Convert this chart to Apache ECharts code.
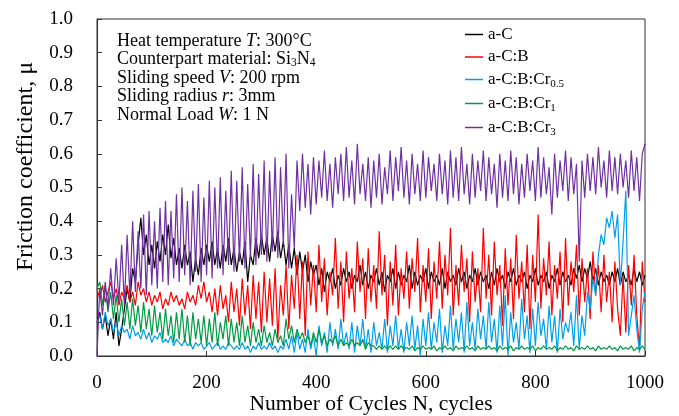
<!DOCTYPE html>
<html>
<head>
<meta charset="utf-8">
<script src="https://cdn.jsdelivr.net/npm/echarts@6/dist/echarts.min.js"></script>
<style>
  html, body { margin: 0; padding: 0; background: #fff; }
  #chart { width: 679px; height: 416px; }
</style>
</head>
<body>
<div id="chart"></div>
<script>
// cycles 0..1000, one reading every 5 cycles
const step = 5
const xTicks = ['0', '200', '400', '600', '800', '1000']
const yTicks = ['0.0', '0.1', '0.2', '0.3', '0.4', '0.5', '0.6', '0.7', '0.8', '0.9', '1.0']

const names = ['a-C', 'a-C:B', 'a-C:B:Cr0.5', 'a-C:B:Cr1', 'a-C:B:Cr3']
const colors = ['#000000', '#ff0000', '#00a0e9', '#009a44', '#7030a0']

// a-C
const aC = [
  0.10, 0.13, 0.08, 0.12, 0.06, 0.11, 0.05, 0.13, 0.03, 0.08, 0.14,
  0.20, 0.16, 0.26, 0.22, 0.33, 0.41, 0.30, 0.36, 0.27, 0.33,
  0.26, 0.34, 0.28, 0.36, 0.30, 0.39, 0.29, 0.35, 0.27, 0.32,
  0.26, 0.33, 0.27, 0.31, 0.22, 0.29, 0.24, 0.32, 0.27, 0.33,
  0.28, 0.34, 0.27, 0.32, 0.26, 0.33, 0.28, 0.35, 0.27, 0.32,
  0.25, 0.31, 0.27, 0.34, 0.22, 0.30, 0.27, 0.35, 0.29, 0.36,
  0.30, 0.35, 0.28, 0.36, 0.31, 0.37, 0.29, 0.34, 0.27, 0.33,
  0.26, 0.32, 0.24, 0.31, 0.25, 0.30, 0.22, 0.28, 0.24, 0.27,
  0.21, 0.26, 0.19, 0.25, 0.22, 0.26, 0.20, 0.24, 0.21, 0.26,
  0.22, 0.25, 0.20, 0.24, 0.22, 0.27, 0.21, 0.25, 0.20, 0.24,
  0.22, 0.26, 0.21, 0.25, 0.19, 0.24, 0.22, 0.26, 0.20, 0.25,
  0.21, 0.24, 0.22, 0.27, 0.20, 0.25, 0.21, 0.24, 0.22, 0.26,
  0.20, 0.25, 0.22, 0.24, 0.21, 0.26, 0.20, 0.25, 0.22, 0.24,
  0.21, 0.26, 0.22, 0.25, 0.20, 0.24, 0.22, 0.26, 0.21, 0.25,
  0.22, 0.24, 0.20, 0.25, 0.21, 0.26, 0.22, 0.24, 0.20, 0.25,
  0.22, 0.26, 0.21, 0.24, 0.22, 0.25, 0.20, 0.24, 0.22, 0.26,
  0.21, 0.24, 0.22, 0.25, 0.20, 0.24, 0.22, 0.26, 0.21, 0.25,
  0.22, 0.24, 0.21, 0.26, 0.23, 0.27, 0.22, 0.26, 0.23, 0.28,
  0.22, 0.26, 0.21, 0.25, 0.22, 0.24, 0.21, 0.25, 0.22, 0.26,
  0.21, 0.25, 0.22, 0.24, 0.21, 0.26, 0.22, 0.25, 0.21, 0.24
]

// a-C:B
const aCB = [
  0.20, 0.17, 0.21, 0.16, 0.19, 0.22, 0.17, 0.20, 0.15, 0.19, 0.17,
  0.21, 0.16, 0.19, 0.15, 0.22, 0.18, 0.20, 0.16, 0.19, 0.15,
  0.18, 0.16, 0.19, 0.14, 0.17, 0.15, 0.19, 0.16, 0.18, 0.15,
  0.17, 0.14, 0.19, 0.16, 0.18, 0.15, 0.21, 0.17, 0.22, 0.16,
  0.19, 0.13, 0.20, 0.12, 0.21, 0.14, 0.18, 0.10, 0.22, 0.13,
  0.20, 0.09, 0.23, 0.12, 0.21, 0.08, 0.24, 0.11, 0.22, 0.07,
  0.25, 0.10, 0.23, 0.09, 0.26, 0.05, 0.21, 0.12, 0.27, 0.08,
  0.24, 0.14, 0.30, 0.11, 0.28, 0.06, 0.31, 0.15, 0.27, 0.13,
  0.33, 0.16, 0.29, 0.12, 0.25, 0.18, 0.35, 0.14, 0.28, 0.10,
  0.31, 0.17, 0.26, 0.13, 0.34, 0.19, 0.29, 0.11, 0.32, 0.16,
  0.27, 0.14, 0.37, 0.18, 0.30, 0.09, 0.28, 0.15, 0.33, 0.12,
  0.26, 0.17, 0.31, 0.14, 0.29, 0.19, 0.35, 0.13, 0.27, 0.16,
  0.32, 0.11, 0.28, 0.17, 0.34, 0.14, 0.30, 0.18, 0.38, 0.12,
  0.27, 0.15, 0.33, 0.19, 0.29, 0.10, 0.31, 0.16, 0.26, 0.13,
  0.38, 0.17, 0.30, 0.12, 0.34, 0.18, 0.27, 0.09, 0.32, 0.15,
  0.29, 0.11, 0.36, 0.17, 0.28, 0.13, 0.33, 0.08, 0.30, 0.16,
  0.42, 0.14, 0.29, 0.18, 0.34, 0.12, 0.27, 0.17, 0.31, 0.10,
  0.35, 0.15, 0.28, 0.19, 0.33, 0.12, 0.29, 0.16, 0.26, 0.11,
  0.31, 0.18, 0.27, 0.13, 0.30, 0.16, 0.25, 0.10, 0.28, 0.14,
  0.06, 0.24, 0.07, 0.27, 0.15, 0.30, 0.12, 0.02, 0.28, 0.16
]

// a-C:B:Cr0.5
const aCBCr05 = [
  0.10, 0.12, 0.08, 0.13, 0.09, 0.11, 0.07, 0.10, 0.06, 0.09, 0.07,
  0.08, 0.05, 0.09, 0.06, 0.07, 0.05, 0.08, 0.05, 0.07, 0.04,
  0.06, 0.05, 0.07, 0.04, 0.05, 0.04, 0.06, 0.03, 0.05, 0.04,
  0.03, 0.05, 0.03, 0.04, 0.02, 0.04, 0.03, 0.04, 0.02, 0.03,
  0.04, 0.02, 0.03, 0.04, 0.02, 0.03, 0.02, 0.04, 0.03, 0.02,
  0.03, 0.02, 0.04, 0.02, 0.03, 0.01, 0.03, 0.02, 0.04, 0.02,
  0.03, 0.02, 0.04, 0.02, 0.03, 0.01, 0.03, 0.02, 0.05, 0.02,
  0.06, 0.01, 0.07, 0.02, 0.05, 0.01, 0.08, 0.02, 0.06, 0.00,
  0.09, 0.03, 0.07, 0.01, 0.10, 0.03, 0.08, 0.02, 0.11, 0.03,
  0.07, 0.02, 0.10, 0.01, 0.09, 0.03, 0.11, 0.02, 0.08, 0.01,
  0.10, 0.03, 0.07, 0.02, 0.11, 0.01, 0.09, 0.03, 0.12, 0.02,
  0.08, 0.01, 0.10, 0.03, 0.12, 0.02, 0.09, 0.00, 0.11, 0.03,
  0.13, 0.02, 0.10, 0.04, 0.14, 0.01, 0.09, 0.03, 0.15, 0.02,
  0.11, 0.04, 0.13, 0.01, 0.16, 0.03, 0.10, 0.02, 0.14, 0.05,
  0.12, 0.02, 0.16, 0.04, 0.11, 0.01, 0.15, 0.03, 0.18, 0.00,
  0.13, 0.04, 0.10, 0.02, 0.17, 0.05, 0.12, 0.01, 0.14, 0.03,
  0.16, 0.06, 0.11, 0.02, 0.15, 0.04, 0.12, 0.01, 0.14, 0.05,
  0.10, 0.07, 0.13, 0.03, 0.18, 0.02, 0.12, 0.06, 0.19, 0.14,
  0.23, 0.18, 0.30, 0.36, 0.33, 0.41, 0.38, 0.43, 0.35, 0.42,
  0.21, 0.34, 0.49, 0.06, 0.12, 0.18, 0.08, 0.01, 0.14, 0.19
]

// a-C:B:Cr1
const aCBCr1 = [
  0.20, 0.22, 0.15, 0.21, 0.13, 0.19, 0.11, 0.18, 0.10, 0.17, 0.09,
  0.16, 0.08, 0.17, 0.09, 0.15, 0.07, 0.16, 0.08, 0.14, 0.06,
  0.15, 0.07, 0.13, 0.05, 0.14, 0.06, 0.12, 0.04, 0.13, 0.05,
  0.14, 0.04, 0.12, 0.03, 0.13, 0.05, 0.11, 0.04, 0.12, 0.03,
  0.11, 0.04, 0.13, 0.03, 0.10, 0.05, 0.12, 0.03, 0.11, 0.04,
  0.10, 0.03, 0.12, 0.04, 0.09, 0.03, 0.10, 0.04, 0.08, 0.03,
  0.09, 0.04, 0.07, 0.03, 0.08, 0.04, 0.06, 0.03, 0.11, 0.05,
  0.09, 0.04, 0.08, 0.05, 0.07, 0.04, 0.06, 0.03, 0.07, 0.04,
  0.08, 0.04, 0.06, 0.03, 0.05, 0.04, 0.06, 0.03, 0.05, 0.03,
  0.04, 0.03, 0.05, 0.03, 0.04, 0.03, 0.05, 0.02, 0.04, 0.03,
  0.03, 0.02, 0.03, 0.02, 0.03, 0.02, 0.03, 0.02, 0.03, 0.02,
  0.03, 0.02, 0.025, 0.02, 0.03, 0.015, 0.025, 0.02, 0.03, 0.02,
  0.025, 0.02, 0.03, 0.015, 0.025, 0.02, 0.03, 0.02, 0.025, 0.015,
  0.03, 0.02, 0.025, 0.02, 0.03, 0.02, 0.025, 0.015, 0.03, 0.02,
  0.025, 0.02, 0.03, 0.02, 0.025, 0.015, 0.03, 0.02, 0.025, 0.02,
  0.03, 0.015, 0.025, 0.02, 0.03, 0.02, 0.025, 0.02, 0.03, 0.015,
  0.025, 0.02, 0.03, 0.02, 0.025, 0.02, 0.03, 0.015, 0.025, 0.02,
  0.03, 0.02, 0.025, 0.015, 0.03, 0.02, 0.025, 0.02, 0.03, 0.02,
  0.025, 0.015, 0.03, 0.02, 0.025, 0.02, 0.03, 0.02, 0.025, 0.015,
  0.03, 0.02, 0.025, 0.02, 0.03, 0.015, 0.025, 0.02, 0.03, 0.02
]

// a-C:B:Cr3
const aCBCr3 = [
  0.00,
  0.20, 0.12, 0.22, 0.14, 0.26, 0.15, 0.29, 0.16, 0.33, 0.15,
  0.36, 0.18, 0.40, 0.19, 0.37, 0.20, 0.42, 0.18, 0.43, 0.21,
  0.40, 0.20, 0.44, 0.22, 0.46, 0.21, 0.43, 0.23, 0.48, 0.22,
  0.50, 0.24, 0.46, 0.21, 0.49, 0.25, 0.51, 0.22, 0.47, 0.24,
  0.52, 0.23, 0.50, 0.26, 0.53, 0.24, 0.49, 0.27, 0.55, 0.25,
  0.52, 0.28, 0.56, 0.26, 0.51, 0.29, 0.57, 0.27, 0.54, 0.30,
  0.58, 0.28, 0.55, 0.31, 0.59, 0.29, 0.56, 0.33, 0.60, 0.26,
  0.48, 0.32, 0.58, 0.43, 0.60, 0.44, 0.57, 0.42, 0.59, 0.45,
  0.58, 0.47, 0.61, 0.46, 0.57, 0.44, 0.59, 0.48, 0.60, 0.46,
  0.62, 0.47, 0.58, 0.45, 0.63, 0.48, 0.57, 0.46, 0.59, 0.44,
  0.58, 0.47, 0.60, 0.45, 0.56, 0.48, 0.61, 0.46, 0.59, 0.49,
  0.62, 0.47, 0.58, 0.45, 0.60, 0.48, 0.57, 0.46, 0.61, 0.47,
  0.59, 0.49, 0.57, 0.46, 0.60, 0.48, 0.58, 0.45, 0.61, 0.47,
  0.59, 0.46, 0.62, 0.48, 0.57, 0.45, 0.60, 0.47, 0.58, 0.49,
  0.61, 0.46, 0.59, 0.48, 0.57, 0.44, 0.60, 0.47, 0.58, 0.46,
  0.61, 0.48, 0.59, 0.45, 0.57, 0.47, 0.60, 0.49, 0.58, 0.46,
  0.62, 0.47, 0.59, 0.48, 0.56, 0.42, 0.60, 0.47, 0.58, 0.49,
  0.61, 0.46, 0.59, 0.48, 0.57, 0.28, 0.58, 0.47, 0.60, 0.49,
  0.59, 0.48, 0.62, 0.50, 0.58, 0.47, 0.61, 0.49, 0.59, 0.48,
  0.60, 0.50, 0.58, 0.47, 0.61, 0.49, 0.59, 0.46, 0.60, 0.63
]

const seriesValues = [aC, aCB, aCBCr05, aCBCr1, aCBCr3]

const serif = "'Liberation Serif', 'DejaVu Serif', 'Times New Roman', serif"

function pairs(vals) {
  return vals.map((v, i) => [i * step, v])
}

const chart = echarts.init(document.getElementById('chart'), null, { renderer: 'canvas' })

chart.setOption({
  animation: false,
  backgroundColor: '#fff',
  grid: {
    left: 97,
    right: 34,
    top: 19,
    bottom: 60,
    outerBoundsMode: 'none',
    containLabel: false,
    show: true,
    borderColor: '#333',
    borderWidth: 1
  },
  xAxis: {
    type: 'value',
    min: 0,
    max: 1000,
    interval: 200,
    name: 'Number of Cycles N, cycles',
    nameLocation: 'middle',
    nameGap: 37,
    nameMoveOverlap: false,
    nameTextStyle: { fontFamily: serif, fontSize: 21.5, color: '#000' },
    axisLine: { lineStyle: { color: '#333' } },
    axisTick: { inside: true, length: 5, lineStyle: { color: '#333' } },
    axisLabel: {
      fontFamily: serif, fontSize: 19, color: '#000', margin: 18,
      formatter: v => xTicks[Math.round(v / 200)]
    },
    splitLine: { show: false }
  },
  yAxis: {
    type: 'value',
    min: 0,
    max: 1,
    interval: 0.1,
    name: 'Friction coefficient, μ',
    nameLocation: 'middle',
    nameGap: 59,
    nameMoveOverlap: false,
    nameTextStyle: { fontFamily: serif, fontSize: 24, color: '#000', padding: [0, 0, 0, 42] },
    axisLine: { show: true, lineStyle: { color: '#333' } },
    axisTick: { show: true, inside: true, length: 5, lineStyle: { color: '#333' } },
    axisLabel: {
      fontFamily: serif, fontSize: 19, color: '#000', margin: 24,
      formatter: v => yTicks[Math.round(v * 10)]
    },
    splitLine: { show: false }
  },
  legend: {
    orient: 'vertical',
    left: 460,
    top: 21,
    icon: 'rect',
    itemWidth: 18,
    itemHeight: 1.5,
    itemGap: 5.5,
    data: names,
    formatter: function (name) {
      if (name === 'a-C:B:Cr0.5') return '{n|a-C:B:Cr}{s|0.5}'
      if (name === 'a-C:B:Cr1') return '{n|a-C:B:Cr}{s|1}'
      if (name === 'a-C:B:Cr3') return '{n|a-C:B:Cr}{s|3}'
      return '{n|' + name + '}'
    },
    textStyle: {
      fontFamily: serif,
      fontSize: 17,
      color: '#000',
      rich: {
        n: { fontFamily: serif, fontSize: 17, lineHeight: 20, color: '#000' },
        s: { fontFamily: serif, fontSize: 11, lineHeight: 11, verticalAlign: 'bottom', color: '#000' }
      }
    }
  },
  graphic: [{
    type: 'text',
    left: 117,
    top: 32,
    style: {
      text: [
        'Heat temperature {i|T}: 300°C',
        'Counterpart material: Si{s|3}N{s|4}',
        'Sliding speed {i|V}: 200 rpm',
        'Sliding radius {i|r}: 3mm',
        'Normal Load {i|W}: 1 N'
      ].join('\n'),
      fontFamily: serif,
      fontSize: 18,
      lineHeight: 18.5,
      fill: '#000',
      rich: {
        i: { fontFamily: serif, fontSize: 18, fontStyle: 'italic', lineHeight: 18.5, fill: '#000' },
        s: { fontFamily: serif, fontSize: 11.5, lineHeight: 10, verticalAlign: 'bottom', fill: '#000' }
      }
    }
  }],
  series: names.map((name, k) => ({
    name: name,
    type: 'line',
    data: pairs(seriesValues[k]),
    symbol: 'none',
    clip: true,
    lineStyle: { width: 1.2, color: colors[k] },
    itemStyle: { color: colors[k] }
  }))
})
</script>
</body>
</html>
